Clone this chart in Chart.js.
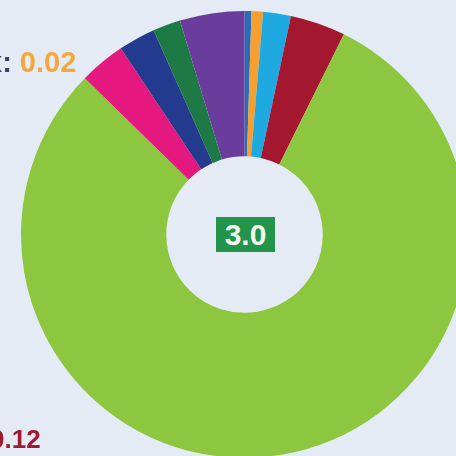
<!DOCTYPE html>
<html>
<head>
<meta charset="utf-8">
<script src="https://cdn.jsdelivr.net/npm/chart.js@4"></script>
<style>
  html, body { margin: 0; padding: 0; width: 456px; height: 456px; overflow: hidden; background: #e5ebf5; }
  #wrap { position: absolute; left: 21px; top: 11px; width: 447px; height: 447px; }
  .lbl { position: absolute; font-family: "Liberation Sans", Arial, sans-serif; font-weight: bold; line-height: 1; white-space: nowrap; }
  #lbl1 { left: -14px; top: 48px; font-size: 29px; color: #3a4560; }
  #lbl1 .v { color: #f5a83a; }
  #lbl2 { left: -10px; top: 426px; font-size: 26px; color: #9e1b32; }
  #center { position: absolute; left: 216px; top: 217px; width: 59px; height: 35px; background: #22954b; color: #f2f8ee;
            font-family: "Liberation Sans", Arial, sans-serif; font-weight: bold; font-size: 30px; line-height: 35px; text-align: center; }
</style>
</head>
<body>
<div id="wrap"><canvas id="c" width="447" height="447"></canvas></div>
<div class="lbl" id="lbl1">x: <span class="v">0.02</span></div>
<div class="lbl" id="lbl2">0.12</div>
<div id="center">3.0</div>
<script>
const categories = ["A", "B", "C", "D", "E", "F", "G", "H", "I"];
const values = [0.015, 0.025, 0.06, 0.12, 2.40, 0.10, 0.08, 0.06, 0.14];
const colors = ["#2a6cb8", "#f7a030", "#1ea9e1", "#a3182f", "#8dc63f", "#e5187f", "#243a8e", "#1d7a44", "#6a3d9c"];

new Chart(document.getElementById("c"), {
  type: "doughnut",
  data: {
    labels: categories,
    datasets: [{
      data: values,
      backgroundColor: colors,
      borderWidth: 0
    }]
  },
  options: {
    responsive: false,
    animation: false,
    cutout: "35%",
    layout: { padding: 0 },
    plugins: { legend: { display: false }, tooltip: { enabled: false } }
  }
});
</script>
</body>
</html>
